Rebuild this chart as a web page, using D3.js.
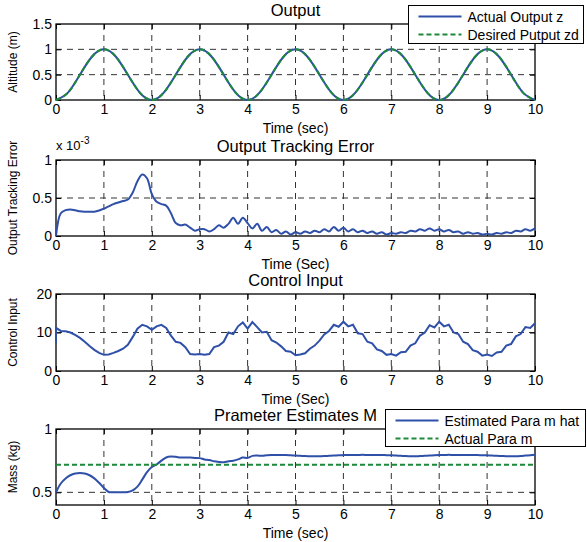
<!DOCTYPE html>
<html>
<head>
<meta charset="utf-8">
<script src="https://cdnjs.cloudflare.com/ajax/libs/d3/7.8.5/d3.min.js"></script>
<style>
  body { margin: 0; background: #fff; }
  svg { font-family: "Liberation Sans", Arial, sans-serif; }
  .tick text { font-size: 14px; }
</style>
</head>
<body>
<script>
// Sample times (s)
var tQuarter = d3.range(0, 10.001, 0.25)
var tTenth = d3.range(0, 10.001, 0.1)

// Panel 1: altitude, read every 0.25 s
var actualOutput = [0, 0.146, 0.5, 0.854, 1, 0.854, 0.5, 0.146,
  0, 0.146, 0.5, 0.854, 1, 0.854, 0.5, 0.146,
  0, 0.146, 0.5, 0.854, 1, 0.854, 0.5, 0.146,
  0, 0.146, 0.5, 0.854, 1, 0.854, 0.5, 0.146,
  0, 0.146, 0.5, 0.854, 1, 0.854, 0.5, 0.146, 0]
var desiredOutput = [0, 0.146, 0.5, 0.854, 1, 0.854, 0.5, 0.146,
  0, 0.146, 0.5, 0.854, 1, 0.854, 0.5, 0.146,
  0, 0.146, 0.5, 0.854, 1, 0.854, 0.5, 0.146,
  0, 0.146, 0.5, 0.854, 1, 0.854, 0.5, 0.146,
  0, 0.146, 0.5, 0.854, 1, 0.854, 0.5, 0.146, 0]

// Panel 2: tracking error (x 10^-3), every 0.1 s
var trackingError = [0, 0.30, 0.34, 0.35, 0.34, 0.325, 0.32, 0.32, 0.32, 0.335,
  0.36, 0.39, 0.42, 0.44, 0.46, 0.48, 0.57, 0.72, 0.81, 0.76,
  0.55, 0.45, 0.42, 0.40, 0.30, 0.17, 0.14, 0.15, 0.11, 0.07,
  0.09, 0.09, 0.06, 0.09, 0.14, 0.11, 0.16, 0.24, 0.16, 0.24,
  0.17, 0.10, 0.16, 0.07, 0.12, 0.05, 0.08, 0.03, 0.06, 0.02,
  0.05, 0.03, 0.06, 0.04, 0.07, 0.05, 0.09, 0.06, 0.12, 0.07,
  0.11, 0.06, 0.09, 0.05, 0.07, 0.04, 0.06, 0.03, 0.05, 0.02,
  0.04, 0.03, 0.05, 0.04, 0.07, 0.06, 0.09, 0.07, 0.10, 0.07,
  0.09, 0.06, 0.08, 0.05, 0.06, 0.03, 0.05, 0.03, 0.04, 0.02,
  0.03, 0.02, 0.04, 0.03, 0.05, 0.04, 0.07, 0.06, 0.09, 0.07, 0.10]

// Panel 3: control input, every 0.1 s (plus the initial value at t = 0)
var controlInitial = 7.2
var controlInput = [11.2, 10.4, 10.3, 10.0, 9.4, 8.6, 7.6, 6.5, 5.5, 4.7,
  4.2, 4.3, 4.7, 5.2, 5.8, 6.8, 8.8, 11.0, 12.0, 11.6,
  10.7, 11.6, 12.0, 11.2, 9.2, 7.6, 7.3, 6.2, 4.4, 4.3,
  4.4, 4.2, 4.4, 6.2, 6.6, 7.6, 10.0, 9.6, 11.6, 12.6,
  11.0, 12.7, 11.4, 10.0, 10.2, 8.0, 7.4, 6.4, 5.2, 5.0,
  4.1, 4.3, 4.6, 5.8, 6.6, 7.9, 9.5, 10.4, 12.0, 11.5,
  12.8, 11.6, 12.0, 9.8, 9.6, 7.6, 7.2, 5.6, 5.2, 4.2,
  4.4, 4.0, 4.9, 5.0, 6.6, 7.2, 9.2, 10.0, 11.9, 11.3,
  12.8, 11.6, 12.0, 10.0, 9.6, 7.6, 7.0, 5.4, 5.0, 4.0,
  4.3, 3.9, 4.8, 5.0, 6.6, 7.0, 9.0, 9.6, 11.4, 11.2, 12.4]

// Panel 4: mass estimate, every 0.1 s
var massEstimate = [0.50, 0.57, 0.61, 0.635, 0.648, 0.652, 0.648, 0.635, 0.61, 0.575,
  0.535, 0.503, 0.50, 0.50, 0.50, 0.502, 0.515, 0.545, 0.60, 0.66,
  0.70, 0.72, 0.75, 0.775, 0.782, 0.78, 0.775, 0.775, 0.775, 0.772,
  0.77, 0.76, 0.755, 0.745, 0.74, 0.738, 0.745, 0.75, 0.76, 0.775,
  0.772, 0.788, 0.79, 0.788, 0.792, 0.795, 0.795, 0.795, 0.794, 0.792,
  0.79, 0.788, 0.786, 0.785, 0.784, 0.785, 0.786, 0.788, 0.79, 0.793,
  0.794, 0.795, 0.794, 0.795, 0.796, 0.795, 0.795, 0.794, 0.795, 0.793,
  0.792, 0.79, 0.788, 0.786, 0.785, 0.784, 0.786, 0.788, 0.79, 0.793,
  0.795, 0.795, 0.796, 0.795, 0.795, 0.794, 0.795, 0.795, 0.794, 0.793,
  0.792, 0.79, 0.789, 0.787, 0.785, 0.784, 0.785, 0.787, 0.79, 0.793, 0.796]
var actualMass = 0.717

// Tick values
var xTicks = [0, 1, 2, 3, 4, 5, 6, 7, 8, 9, 10]
var yTicksOutput = [0, 0.5, 1, 1.5]
var yTicksError = [0, 0.5, 1]
var yTicksControl = [0, 10, 20]
var yTicksMass = [0.5, 1]

var blue = "#2f50a8", green = "#1d8a3a"

var svg = d3.select("body").append("svg")
            .attr("width", 587)
            .attr("height", 542)

var x = d3.scaleLinear().domain([0, 10]).range([56, 535])

var panels = [
  {top: 24, bottom: 100, domain: [0, 1.5], ticks: yTicksOutput, title: "Output", ylabel: "Altitude (m)", xlabel: "Time (sec)"},
  {top: 160, bottom: 236, domain: [0, 1], ticks: yTicksError, title: "Output Tracking Error", ylabel: "Output Tracking Error", xlabel: "Time (Sec)"},
  {top: 294, bottom: 371, domain: [0, 20], ticks: yTicksControl, title: "Control Input", ylabel: "Control Input", xlabel: "Time (Sec)"},
  {top: 429, bottom: 505, domain: [0.4, 1], ticks: yTicksMass, title: "Prameter Estimates M", ylabel: "Mass (kg)", xlabel: "Time (sec)"}
]

panels.forEach(function(p, i){
  p.y = d3.scaleLinear().domain(p.domain).range([p.bottom, p.top])
  var g = svg.append("g")

  // dashed grid
  g.selectAll(".gx").data(xTicks.slice(1, -1)).enter().append("line")
   .attr("x1", d => x(d)).attr("x2", d => x(d))
   .attr("y1", p.top).attr("y2", p.bottom)
   .attr("stroke", "#333").attr("stroke-width", 1).attr("stroke-dasharray", "6,5")
  g.selectAll(".gy").data(p.ticks.filter(d => d > p.domain[0] && d < p.domain[1])).enter().append("line")
   .attr("x1", 56).attr("x2", 535)
   .attr("y1", d => p.y(d)).attr("y2", d => p.y(d))
   .attr("stroke", "#333").attr("stroke-width", 1).attr("stroke-dasharray", "6,5")

  // axes with inward ticks
  var bottomAxis = d3.axisBottom(x).tickValues(xTicks).tickFormat(d3.format("d")).tickSizeInner(-5).tickSizeOuter(0).tickPadding(4)
  var topAxis = d3.axisTop(x).tickValues(xTicks).tickFormat("").tickSizeInner(-5).tickSizeOuter(0)
  var leftAxis = d3.axisLeft(p.y).tickValues(p.ticks).tickFormat(d3.format("")).tickSizeInner(-5).tickSizeOuter(0).tickPadding(4)
  var rightAxis = d3.axisRight(p.y).tickValues(p.ticks).tickFormat("").tickSizeInner(-5).tickSizeOuter(0)

  g.append("g").attr("transform", "translate(0," + p.bottom + ")").call(bottomAxis)
  g.append("g").attr("transform", "translate(0," + p.top + ")").call(topAxis)
  g.append("g").attr("transform", "translate(56,0)").call(leftAxis)
  g.append("g").attr("transform", "translate(535,0)").call(rightAxis)
  g.selectAll(".domain").remove()
  g.selectAll(".tick line").attr("stroke", "#000")
  g.selectAll(".tick text").attr("fill", "#000").style("font-size", "14px")

  g.append("rect")
   .attr("x", 56).attr("y", p.top)
   .attr("width", 535 - 56).attr("height", p.bottom - p.top)
   .attr("fill", "none").attr("stroke", "#000").attr("stroke-width", 1.3)

  // texts
  svg.append("text")
     .attr("x", 295.5).attr("y", p.top - 8)
     .attr("text-anchor", "middle")
     .style("font-size", "16.5px")
     .text(p.title)
  svg.append("text")
     .attr("x", 295.5).attr("y", p.bottom + 33)
     .attr("text-anchor", "middle")
     .style("font-size", "14px")
     .text(p.xlabel)
  svg.append("text")
     .attr("transform", "translate(17," + (p.top + p.bottom) / 2 + ") rotate(-90)")
     .attr("text-anchor", "middle")
     .style("font-size", "12px")
     .text(p.ylabel)
})

// exponent label on the error panel
var expo = svg.append("text").attr("x", 56).attr("y", 150).style("font-size", "13px")
expo.append("tspan").text("x 10")
expo.append("tspan").attr("dy", -6).style("font-size", "10px").text("-3")

function drawLine(p, times, values, color, dash, curve){
  var line = d3.line()
               .x(function(d){ return x(d[0]) })
               .y(function(d){ return p.y(d[1]) })
               .curve(curve || d3.curveLinear)
  svg.append("path")
     .datum(times.map(function(t, i){ return [t, values[i]] }))
     .attr("d", line)
     .attr("fill", "none")
     .attr("stroke", color)
     .attr("stroke-width", 2)
     .attr("stroke-dasharray", dash || null)
}

drawLine(panels[0], tQuarter, actualOutput, blue, null, d3.curveNatural)
drawLine(panels[0], tQuarter, desiredOutput, green, "5,3", d3.curveNatural)
drawLine(panels[1], tTenth, trackingError, blue, null, d3.curveCatmullRom)
drawLine(panels[2], [0].concat(tTenth), [controlInitial].concat(controlInput), blue, null, d3.curveLinear)
drawLine(panels[3], tTenth, massEstimate, blue, null, d3.curveCatmullRom)
drawLine(panels[3], [0, 10], [actualMass, actualMass], green, "5,3")

// legends
function legend(x0, y0, w, h, items){
  var lg = svg.append("g")
  lg.append("rect").attr("x", x0).attr("y", y0).attr("width", w).attr("height", h)
    .attr("fill", "#fff").attr("stroke", "#000").attr("stroke-width", 1)
  items.forEach(function(it, i){
    var yy = y0 + 11 + i * 18
    lg.append("line").attr("x1", x0 + 10).attr("x2", x0 + 53).attr("y1", yy).attr("y2", yy)
      .attr("stroke", it.color).attr("stroke-width", 2).attr("stroke-dasharray", it.dash || null)
    lg.append("text").attr("x", x0 + 59).attr("y", yy + 5).style("font-size", "14px").text(it.label)
  })
}
legend(408.5, 5.5, 175, 38, [
  {label: "Actual Output z", color: blue},
  {label: "Desired Putput zd", color: green, dash: "5,3"}
])
legend(385.5, 409.5, 200, 37, [
  {label: "Estimated Para m hat", color: blue},
  {label: "Actual Para m", color: green, dash: "5,3"}
])
</script>
</body>
</html>
